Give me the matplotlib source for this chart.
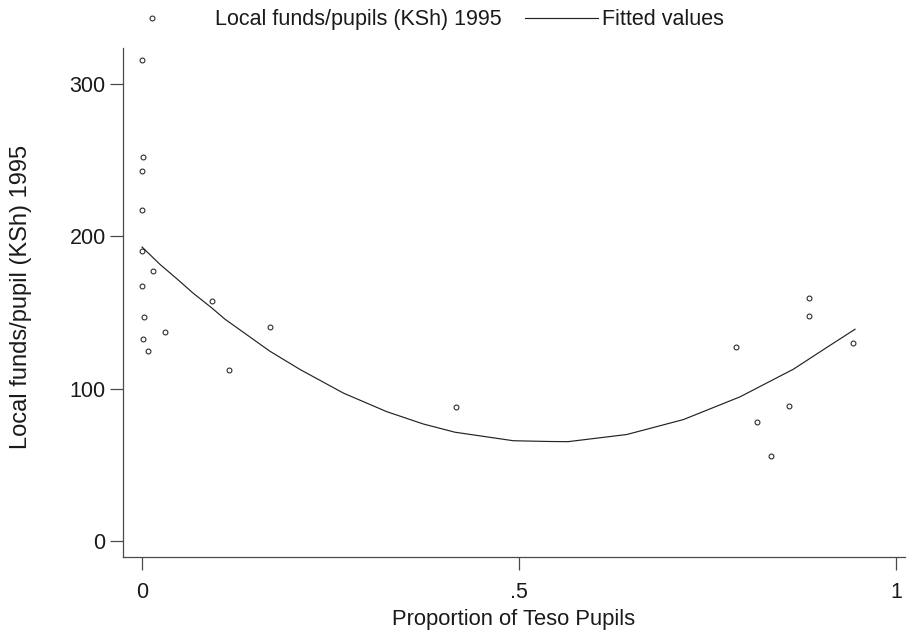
import matplotlib
matplotlib.use("Agg")
import matplotlib.pyplot as plt
from matplotlib.lines import Line2D
from matplotlib.legend_handler import HandlerLine2D

plt.rcParams['font.family'] = ['Liberation Sans', 'DejaVu Sans']

# Scatter data: proportion of Teso pupils vs local funds per pupil (KSh) 1995
teso_share = [0.0, 0.001, 0.0, 0.0, 0.0, 0.014, 0.0, 0.002, 0.030, 0.001, 0.008,
              0.093, 0.170, 0.115, 0.416, 0.788, 0.815, 0.834, 0.858, 0.884, 0.885, 0.943]
local_funds = [316, 252, 243, 217, 190.6, 177.5, 167.4, 146.9, 137, 132.8, 124.4,
               157.8, 140.7, 112.4, 88, 127.2, 78.3, 55.6, 88.4, 148, 159.5, 130]

# Fitted values (quadratic fit)
fit_x = [0.0, 0.024, 0.046, 0.068, 0.092, 0.110, 0.1695, 0.2095, 0.267, 0.3245, 0.373,
         0.415, 0.4925, 0.541, 0.565, 0.643, 0.718, 0.793, 0.864, 0.908, 0.9456]
fit_y = [193.0, 181.5, 172.2, 162.6, 153.2, 145.6, 124.6, 112.6, 97.1, 84.9, 76.8,
         71.4, 65.8, 65.3, 65.2, 69.9, 79.7, 94.6, 112.8, 127.0, 139.0]

xticks = [0, 0.5, 1]
xticklabels = ["0", ".5", "1"]
yticks = [0, 100, 200, 300]
yticklabels = ["0", "100", "200", "300"]

INK = '#1a1a1a'
AXC = '#4a4a4a'

fig = plt.figure(figsize=(9.08, 6.33), dpi=100)
ax = fig.add_axes([0.1355, 0.1194, 0.8612, 0.8054])

ax.plot(teso_share, local_funds, linestyle='none', marker='o', markersize=3.5,
        markerfacecolor='none', markeredgecolor='#222222', markeredgewidth=0.75)
ax.plot(fit_x, fit_y, color='#222222', linewidth=0.85)

ax.set_xlim(-0.0252, 1.0119)
ax.set_ylim(-10.8, 323.9)
ax.set_xticks(xticks)
ax.set_xticklabels(xticklabels)
ax.set_yticks(yticks)
ax.set_yticklabels(yticklabels)

for s in ['top', 'right']:
    ax.spines[s].set_visible(False)
for s in ['left', 'bottom']:
    ax.spines[s].set_color(AXC)
    ax.spines[s].set_linewidth(0.9)
ax.tick_params(axis='both', direction='out', length=9.5, width=0.9, color=AXC,
               labelsize=15.5, labelcolor=INK)
ax.tick_params(axis='x', pad=8)
ax.tick_params(axis='y', pad=3)

ax.set_xlabel("Proportion of Teso Pupils", fontsize=15.8, color=INK, labelpad=4.5)
ax.set_ylabel("Local funds/pupil (KSh) 1995", fontsize=17, color=INK)
ax.yaxis.set_label_coords(-0.1165, 0.51)


class ShiftedMarkerHandler(HandlerLine2D):
    def __init__(self, shift, **kw):
        super().__init__(**kw)
        self.shift = shift

    def create_artists(self, legend, orig_handle, xdescent, ydescent, width, height,
                       fontsize, trans):
        artists = super().create_artists(legend, orig_handle, xdescent, ydescent,
                                         width, height, fontsize, trans)
        for a in artists:
            if a.get_marker() not in (None, 'None', ''):
                xd = a.get_xdata()
                a.set_xdata([x - self.shift for x in xd])
        return artists


marker_handle = Line2D([], [], linestyle='none', marker='o', markersize=3.5,
                       markerfacecolor='none', markeredgecolor='#222222',
                       markeredgewidth=0.75)
line_handle = Line2D([], [], color='#222222', linewidth=0.85)
labels = ["Local funds/pupils (KSh) 1995", "Fitted values"]
fig.legend([marker_handle, line_handle], labels, loc='center',
           bbox_to_anchor=(0.4745, 0.969), ncol=2, frameon=False, fontsize=15.5,
           handlelength=3.4, handletextpad=0.2, columnspacing=1.05, labelcolor=INK,
           handler_map={marker_handle: ShiftedMarkerHandler(16)})

fig.savefig("out.png", dpi=100, facecolor='white')
